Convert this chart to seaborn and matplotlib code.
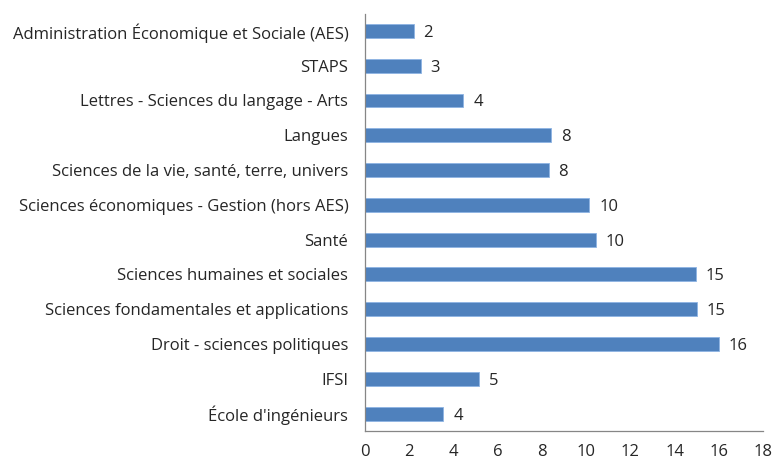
import matplotlib
matplotlib.use("Agg")
import matplotlib.pyplot as plt
import seaborn as sns
import pandas as pd
import numpy as np

categories = [
    "Administration Économique et Sociale (AES)",
    "STAPS",
    "Lettres - Sciences du langage - Arts",
    "Langues",
    "Sciences de la vie, santé, terre, univers",
    "Sciences économiques - Gestion (hors AES)",
    "Santé",
    "Sciences humaines et sociales",
    "Sciences fondamentales et applications",
    "Droit - sciences politiques",
    "IFSI",
    "École d'ingénieurs",
]
values = [2.2, 2.52, 4.45, 8.4, 8.3, 10.15, 10.45, 14.95, 15.0, 16.0, 5.15, 3.55]
xticks = [0, 2, 4, 6, 8, 10, 12, 14, 16, 18]

df = pd.DataFrame({"cat": categories, "val": values})

sns.set_style("white")
plt.rcParams['font.family'] = ['Open Sans', 'DejaVu Sans']

fig = plt.figure(figsize=(7.74, 4.62), dpi=100)
ax = fig.add_axes([365/774, 1 - 431/462, (763-365)/774, (431-13.5)/462])

color = "#4F81BD"
sns.barplot(data=df, y="cat", x="val", orient="h", color=color, width=0.4,
            edgecolor="#8EB4E3", linewidth=0.6, saturation=1, ax=ax)

ax.set_xlim(0, 18)
ax.set_ylim(len(categories) - 0.5, -0.5)
ax.set_xticks(xticks)
ax.set_xticklabels([str(t) for t in xticks], fontsize=12)
ax.set_xlabel("")
ax.set_ylabel("")
ax.tick_params(axis="y", which="major", length=0, labelsize=12, pad=12)
ax.set_yticks(np.arange(-0.5, len(categories), 1), minor=True)
ax.tick_params(axis="y", which="minor", length=5, color="#868686", direction="out")
ax.tick_params(axis="x", which="major", length=5, color="#868686", direction="out", pad=4)
for s in ["top", "right"]:
    ax.spines[s].set_visible(False)
for s in ["left", "bottom"]:
    ax.spines[s].set_color("#868686")
    ax.spines[s].set_linewidth(0.9)

for i, v in enumerate(values):
    ax.text(v + 0.45, i, f"{round(v):d}", va="center_baseline", ha="left", fontsize=12)

fig.savefig("out.png", dpi=100)
